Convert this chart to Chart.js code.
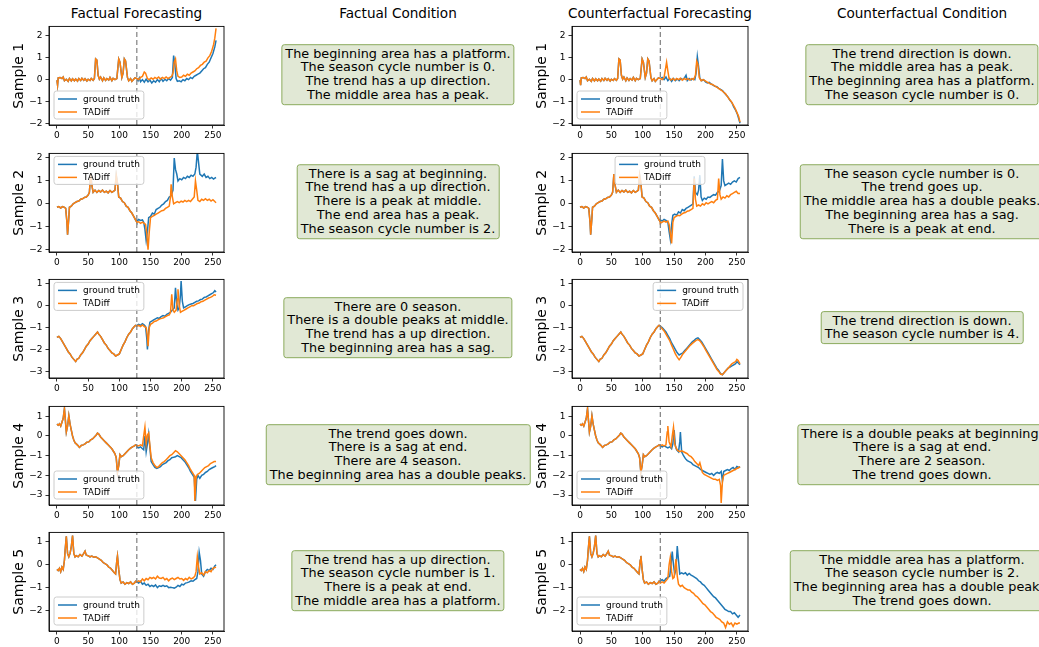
<!DOCTYPE html>
<html><head><meta charset="utf-8">
<script src="https://cdn.jsdelivr.net/npm/chart.js@4.4.0/dist/chart.umd.min.js"></script>
<style>
html,body{margin:0;padding:0;background:#fff;width:1039px;height:647px;overflow:hidden;font-family:"DejaVu Sans",sans-serif;}
body{position:relative;}
.wrap{position:absolute;}
.title{position:absolute;font-size:13.6px;line-height:16px;color:#000;white-space:nowrap;transform:translateX(-50%);}
.box{position:absolute;transform:translate(-50%,-50%);background:#e1e8d5;border:1px solid #8bab5d;border-radius:3px;padding:2px 3px;font-size:12.8px;line-height:13.9px;text-align:center;white-space:nowrap;color:#000;}
</style></head><body>
<script>
// ---------------- data ----------------
const xTicks = [0, 50, 100, 150, 200, 250];
const splitAt = 128;
const yTicksS1 = [-2, -1, 0, 1, 2];
const yTicksS2 = [-2, -1, 0, 1, 2];
const yTicksS3 = [-3, -2, -1, 0, 1];
const yTicksS4 = [-3, -2, -1, 0, 1];
const yTicksS5 = [-2, -1, 0, 1];
const yRangeS1 = [-2.08, 2.44];
const yRangeS2 = [-2.1, 2.2];
const yRangeS3 = [-3.3, 1.2];
const yRangeS4 = [-3.5, 1.5];
const yRangeS5 = [-2.9, 1.42];
const sampleLabels = ["Sample 1", "Sample 2", "Sample 3", "Sample 4", "Sample 5"];
const columnTitles = ["Factual Forecasting", "Factual Condition", "Counterfactual Forecasting", "Counterfactual Condition"];
const seriesNames = ["ground truth", "TADiff"];

// Sample 1
const s1Hist = [[0,-0.02],[1,-0.25],[2,0.08],[5,0.1],[8,0.05],[10,0.12],[12,-0.05],[15,0.02],[18,-0.08],[20,0.05],[23,-0.06],[25,0.04],[28,-0.05],[30,0.03],[33,-0.07],[35,0.05],[38,-0.04],[40,0.06],[43,-0.03],[45,0.04],[48,-0.06],[50,0.02],[53,-0.04],[55,0.05],[58,-0.03],[60,0.05],[62,0.95],[64,0.9],[66,0.2],[68,0.02],[70,0.12],[73,-0.05],[75,0.08],[78,-0.04],[80,0.05],[83,-0.02],[85,0.1],[88,-0.05],[90,0.06],[93,0.0],[96,0.05],[99,0.95],[101,0.8],[104,0.1],[106,0.3],[108,0.95],[110,0.85],[113,0.1],[115,-0.05],[118,0.05],[120,-0.08],[123,0.02],[125,0.08],[128,0.05]];
const s1FacGT = [[128,0.05],[130,-0.05],[132,0.08],[134,-0.1],[137,0.0],[140,-0.12],[143,0.02],[146,-0.1],[149,-0.02],[152,-0.15],[155,-0.05],[158,-0.12],[161,0.0],[164,-0.1],[167,0.05],[170,-0.08],[173,0.02],[176,-0.05],[179,0.05],[182,-0.02],[185,0.1],[187,1.1],[189,0.7],[191,0.05],[193,-0.08],[196,-0.05],[199,-0.1],[202,0.0],[205,-0.05],[208,0.05],[211,0.0],[214,0.1],[217,0.05],[220,0.15],[223,0.2],[226,0.25],[229,0.3],[232,0.4],[235,0.5],[238,0.55],[241,0.7],[244,0.8],[247,1.0],[250,1.2],[253,1.5],[255,1.8]];
const s1FacTAD = [[128,0.05],[131,0.0],[134,0.1],[137,0.15],[140,0.35],[142,0.3],[145,0.05],[148,0.0],[151,0.08],[154,0.02],[157,0.1],[160,0.05],[163,0.12],[166,0.02],[169,0.1],[172,0.05],[175,0.12],[178,0.05],[181,0.1],[184,0.15],[186,0.3],[188,0.8],[190,0.95],[192,0.4],[194,0.15],[197,0.1],[200,0.12],[203,0.2],[206,0.15],[209,0.25],[212,0.2],[215,0.3],[218,0.35],[221,0.4],[224,0.5],[227,0.55],[230,0.65],[233,0.7],[236,0.8],[239,0.85],[242,1.0],[245,1.1],[248,1.3],[251,1.6],[253,1.9],[255,2.35]];
const s1CfGT = [[128,0.05],[131,0.1],[134,0.0],[137,0.12],[140,-0.05],[143,0.05],[146,-0.08],[149,0.05],[152,-0.05],[155,0.03],[158,-0.05],[161,0.05],[164,0.0],[167,0.1],[169,0.2],[171,-0.05],[174,0.05],[177,-0.02],[180,0.05],[183,0.0],[185,0.3],[187,1.05],[189,0.6],[191,0.05],[194,-0.05],[197,0.0],[200,-0.1],[203,-0.15],[206,-0.12],[209,-0.2],[212,-0.25],[215,-0.3],[218,-0.32],[221,-0.4],[224,-0.45],[227,-0.5],[230,-0.6],[233,-0.7],[236,-0.8],[239,-0.95],[242,-1.05],[245,-1.25],[248,-1.4],[251,-1.6],[253,-1.8],[255,-2.0]];
const s1CfTAD = [[128,0.05],[131,0.0],[134,0.1],[136,0.45],[138,0.8],[140,0.4],[142,0.05],[145,-0.02],[148,0.05],[151,-0.03],[154,0.05],[157,0.0],[160,0.06],[163,-0.03],[166,0.05],[169,0.0],[172,0.05],[175,-0.02],[178,0.05],[181,0.0],[184,0.2],[186,0.85],[188,0.7],[190,0.1],[193,-0.05],[196,0.0],[199,-0.05],[202,-0.1],[205,-0.15],[208,-0.2],[211,-0.22],[214,-0.28],[217,-0.33],[220,-0.38],[223,-0.45],[226,-0.5],[229,-0.58],[232,-0.65],[235,-0.78],[238,-0.9],[241,-1.0],[244,-1.15],[247,-1.3],[250,-1.5],[253,-1.7],[255,-1.95]];

// Sample 2
const s2Hist = [[0,-0.15],[3,-0.12],[6,-0.18],[9,-0.12],[12,-0.15],[14,-0.2],[16,-0.8],[17,-1.35],[19,-0.6],[20,-0.15],[23,-0.1],[26,0.0],[29,0.05],[32,0.1],[35,0.12],[38,0.2],[41,0.22],[44,0.28],[47,0.3],[50,0.38],[52,0.5],[54,1.3],[56,0.8],[58,0.5],[61,0.6],[64,0.5],[67,0.58],[70,0.52],[73,0.6],[76,0.5],[79,0.55],[82,0.48],[85,0.58],[88,0.5],[91,0.55],[93,0.6],[95,1.25],[97,0.9],[99,0.3],[102,0.25],[105,0.1],[108,0.05],[111,-0.1],[114,-0.15],[117,-0.3],[120,-0.4],[123,-0.55],[126,-0.7],[128,-0.8]];
const s2FacGT = [[128,-0.75],[131,-0.68],[134,-0.72],[137,-0.7],[139,-0.8],[141,-1.1],[143,-1.6],[145,-1.2],[147,-0.6],[150,-0.55],[153,-0.4],[156,-0.45],[159,-0.25],[162,-0.2],[165,-0.15],[168,-0.05],[171,0.0],[174,0.1],[177,0.15],[180,0.3],[183,0.35],[186,0.6],[188,2.0],[190,1.5],[192,1.3],[194,1.0],[197,1.1],[200,1.05],[203,1.15],[206,1.1],[209,1.2],[212,1.15],[215,1.25],[218,1.2],[221,1.3],[223,1.6],[225,2.3],[227,1.8],[229,1.3],[233,1.2],[236,1.3],[239,1.15],[242,1.2],[245,1.1],[248,1.15],[251,1.08],[253,1.12],[255,1.15]];
const s2FacTAD = [[128,-0.8],[131,-0.78],[134,-0.85],[137,-0.8],[140,-0.85],[142,-0.9],[144,-1.3],[146,-2.0],[148,-1.2],[150,-0.6],[153,-0.55],[156,-0.5],[159,-0.45],[162,-0.4],[165,-0.35],[168,-0.3],[171,-0.28],[174,-0.2],[177,-0.15],[180,-0.1],[182,0.3],[183,0.85],[185,0.3],[187,0.0],[190,0.05],[193,0.1],[196,0.05],[199,0.12],[202,0.08],[205,0.15],[208,0.1],[211,0.15],[214,0.1],[217,0.2],[220,0.3],[222,1.0],[224,0.6],[226,0.15],[229,0.1],[232,0.2],[235,0.15],[238,0.22],[241,0.15],[244,0.2],[247,0.12],[250,0.18],[253,0.1],[255,0.05]];
const s2CfGT = [[128,-0.7],[131,-0.75],[134,-0.68],[137,-0.72],[140,-0.8],[142,-1.2],[144,-1.55],[146,-0.9],[148,-0.5],[151,-0.45],[154,-0.5],[157,-0.35],[160,-0.4],[163,-0.25],[166,-0.3],[169,-0.2],[172,-0.15],[175,-0.1],[178,-0.05],[180,0.0],[182,1.2],[184,0.5],[187,0.4],[189,0.6],[191,1.25],[193,0.3],[195,0.15],[198,0.25],[201,0.2],[204,0.3],[207,0.28],[210,0.35],[213,0.4],[216,0.38],[219,0.5],[222,0.55],[225,0.8],[227,1.95],[229,1.0],[231,0.8],[234,0.85],[237,0.9],[240,0.85],[243,0.95],[246,1.0],[249,0.95],[252,1.1],[255,1.15]];
const s2CfTAD = [[128,-0.85],[131,-0.8],[134,-0.75],[137,-0.8],[140,-0.75],[142,-0.9],[144,-1.3],[146,-1.73],[148,-0.8],[150,-0.6],[153,-0.55],[156,-0.5],[159,-0.52],[162,-0.45],[165,-0.4],[168,-0.38],[171,-0.32],[174,-0.3],[177,-0.25],[180,-0.2],[182,1.1],[184,0.2],[186,-0.1],[189,-0.05],[192,-0.1],[195,0.0],[198,-0.05],[201,0.05],[204,0.0],[207,0.05],[210,0.1],[213,0.05],[216,0.15],[219,0.2],[221,1.1],[223,0.4],[225,0.2],[228,0.3],[231,0.25],[234,0.35],[237,0.3],[240,0.4],[243,0.45],[246,0.5],[249,0.55],[252,0.45],[255,0.45]];

// Sample 3
const s3Hist = [[0,-1.45],[3,-1.4],[6,-1.5],[9,-1.65],[12,-1.8],[15,-1.95],[18,-2.1],[21,-2.2],[24,-2.35],[27,-2.45],[30,-2.55],[32,-2.45],[35,-2.4],[38,-2.25],[41,-2.15],[44,-2.0],[47,-1.85],[50,-1.75],[53,-1.6],[56,-1.5],[59,-1.4],[62,-1.3],[65,-1.2],[67,-1.3],[70,-1.4],[73,-1.55],[76,-1.7],[79,-1.8],[82,-1.95],[85,-2.05],[88,-2.15],[91,-2.2],[94,-2.3],[97,-2.25],[100,-2.2],[103,-2.0],[106,-1.8],[109,-1.65],[112,-1.45],[115,-1.3],[118,-1.2],[121,-1.05],[124,-0.95],[126,-0.9],[128,-0.92]];
const s3FacGT = [[128,-0.9],[131,-0.85],[134,-0.9],[137,-0.82],[140,-0.88],[142,-0.95],[144,-1.5],[145,-2.0],[147,-1.1],[149,-0.75],[152,-0.7],[155,-0.65],[158,-0.6],[161,-0.55],[164,-0.58],[167,-0.5],[170,-0.45],[173,-0.48],[176,-0.4],[179,-0.35],[182,-0.3],[185,-0.2],[188,-0.1],[190,0.82],[192,0.1],[194,-0.2],[196,-0.1],[198,0.5],[199,1.12],[201,0.2],[203,-0.1],[206,-0.05],[209,0.0],[212,0.05],[215,0.08],[218,0.1],[221,0.15],[224,0.2],[227,0.22],[230,0.28],[233,0.3],[236,0.38],[239,0.4],[242,0.45],[245,0.5],[248,0.55],[251,0.6],[253,0.68],[255,0.62]];
const s3FacTAD = [[128,-0.92],[131,-0.9],[134,-0.95],[137,-0.88],[140,-0.95],[143,-1.0],[145,-1.4],[146,-1.85],[148,-1.0],[150,-0.85],[153,-0.8],[156,-0.72],[159,-0.7],[162,-0.65],[165,-0.6],[168,-0.58],[171,-0.55],[174,-0.5],[177,-0.45],[180,-0.42],[182,-0.3],[184,0.52],[186,-0.2],[188,-0.3],[191,-0.2],[193,0.3],[194,0.75],[196,0.0],[198,-0.3],[201,-0.25],[204,-0.2],[207,-0.15],[210,-0.1],[213,-0.05],[216,0.0],[219,0.0],[222,0.05],[225,0.1],[228,0.12],[231,0.18],[234,0.2],[237,0.25],[240,0.3],[243,0.35],[246,0.38],[249,0.42],[252,0.5],[255,0.48]];
const s3CfGT = [[128,-0.95],[131,-1.0],[134,-1.1],[137,-1.2],[140,-1.35],[143,-1.5],[146,-1.7],[149,-1.85],[152,-2.0],[155,-2.15],[158,-2.25],[161,-2.2],[164,-2.15],[167,-2.05],[170,-1.95],[173,-1.85],[176,-1.75],[179,-1.65],[182,-1.58],[185,-1.5],[188,-1.47],[191,-1.55],[194,-1.65],[197,-1.8],[200,-1.95],[203,-2.1],[206,-2.25],[209,-2.4],[212,-2.55],[215,-2.7],[218,-2.85],[221,-2.95],[224,-3.1],[227,-3.15],[230,-3.05],[233,-2.95],[236,-2.85],[239,-2.8],[242,-2.75],[245,-2.7],[248,-2.65],[250,-2.55],[252,-2.6],[255,-2.7]];
const s3CfTAD = [[128,-0.95],[131,-1.05],[134,-1.15],[137,-1.3],[140,-1.45],[143,-1.6],[146,-1.8],[149,-2.0],[152,-2.2],[155,-2.35],[158,-2.47],[161,-2.35],[164,-2.2],[167,-2.1],[170,-2.0],[173,-1.9],[176,-1.8],[179,-1.72],[182,-1.65],[185,-1.58],[188,-1.55],[191,-1.6],[194,-1.72],[197,-1.85],[200,-2.0],[203,-2.15],[206,-2.3],[209,-2.45],[212,-2.6],[215,-2.75],[218,-2.9],[221,-3.0],[224,-3.12],[227,-3.15],[230,-3.05],[233,-2.95],[236,-2.85],[239,-2.75],[242,-2.65],[245,-2.6],[248,-2.55],[250,-2.45],[252,-2.5],[255,-2.65]];

// Sample 4
const s4Hist = [[0,0.6],[2,0.55],[4,0.62],[6,0.5],[8,0.7],[10,0.9],[12,1.39],[14,0.6],[15,0.2],[17,0.5],[19,1.03],[21,0.6],[23,0.3],[25,0.0],[27,-0.2],[29,-0.35],[31,-0.4],[34,-0.5],[36,-0.58],[39,-0.48],[42,-0.45],[45,-0.4],[48,-0.32],[51,-0.3],[54,-0.2],[57,-0.15],[60,-0.05],[63,0.05],[65,0.15],[67,0.1],[70,-0.05],[73,-0.15],[76,-0.25],[79,-0.35],[82,-0.45],[85,-0.55],[88,-0.65],[91,-0.8],[93,-0.9],[95,-1.1],[97,-1.85],[99,-1.5],[101,-0.95],[103,-1.05],[106,-1.0],[109,-0.9],[112,-0.8],[115,-0.7],[118,-0.62],[121,-0.55],[124,-0.5],[126,-0.45],[128,-0.5]];
const s4FacGT = [[128,-0.55],[131,-0.6],[134,-0.55],[137,-0.65],[139,-0.7],[141,0.0],[143,-0.8],[145,-0.4],[147,0.1],[149,-0.6],[151,-1.3],[154,-1.45],[157,-1.6],[160,-1.65],[163,-1.6],[166,-1.55],[169,-1.45],[172,-1.4],[175,-1.35],[178,-1.25],[181,-1.2],[184,-1.1],[187,-1.08],[190,-1.05],[193,-1.0],[196,-1.05],[199,-1.1],[202,-1.2],[205,-1.3],[208,-1.45],[211,-1.6],[214,-1.8],[217,-1.95],[220,-2.1],[222,-3.3],[224,-2.2],[226,-2.0],[229,-2.15],[232,-2.0],[235,-1.95],[238,-1.85],[241,-1.8],[244,-1.7],[247,-1.65],[250,-1.6],[253,-1.55],[255,-1.5]];
const s4FacTAD = [[128,-0.5],[131,-0.5],[134,-0.45],[137,-0.5],[139,0.0],[141,0.45],[143,-0.4],[145,0.05],[147,0.15],[149,-0.5],[151,-1.1],[154,-1.35],[157,-1.5],[160,-1.6],[163,-1.55],[166,-1.45],[169,-1.35],[172,-1.3],[175,-1.2],[178,-1.1],[181,-1.0],[184,-0.95],[187,-0.85],[190,-0.75],[193,-0.8],[196,-0.9],[199,-1.0],[202,-1.1],[205,-1.2],[208,-1.35],[211,-1.5],[214,-1.7],[217,-1.85],[220,-2.0],[221,-3.3],[223,-2.1],[225,-1.95],[228,-1.9],[231,-1.8],[234,-1.7],[237,-1.6],[240,-1.55],[243,-1.5],[246,-1.4],[249,-1.35],[252,-1.3],[255,-1.3]];
const s4CfGT = [[128,-0.5],[131,-0.55],[134,-0.5],[137,-0.55],[140,-0.6],[143,-0.55],[146,-0.65],[148,-0.4],[150,0.3],[152,-0.5],[154,-0.7],[157,-0.8],[159,-0.3],[160,0.2],[162,-0.8],[165,-1.0],[168,-1.15],[171,-1.25],[174,-1.3],[177,-1.35],[180,-1.45],[183,-1.5],[186,-1.55],[189,-1.6],[192,-1.7],[195,-1.75],[198,-1.8],[201,-1.85],[204,-1.9],[207,-1.95],[210,-1.9],[213,-2.0],[216,-1.9],[219,-1.85],[222,-1.9],[225,-1.8],[227,-2.3],[229,-1.8],[232,-1.75],[235,-1.7],[238,-1.75],[241,-1.65],[244,-1.6],[247,-1.7],[250,-1.55],[253,-1.6],[255,-1.55]];
const s4CfTAD = [[128,-0.5],[131,-0.45],[134,-0.5],[137,-0.45],[139,0.2],[140,0.5],[142,-0.3],[145,-0.55],[147,0.0],[149,0.45],[151,-0.4],[153,-0.6],[156,-0.75],[159,-0.8],[162,-0.75],[165,-0.8],[168,-0.85],[171,-0.9],[174,-1.0],[177,-1.05],[180,-1.15],[183,-1.3],[186,-1.4],[189,-1.5],[191,-1.36],[193,-1.6],[195,-1.85],[198,-1.95],[201,-2.0],[204,-2.05],[207,-2.1],[210,-2.15],[213,-2.2],[216,-2.2],[219,-2.25],[222,-2.2],[224,-2.5],[225,-3.4],[227,-2.3],[229,-2.0],[232,-1.95],[235,-1.9],[238,-1.85],[241,-1.8],[244,-1.75],[247,-1.7],[250,-1.65],[253,-1.6],[255,-1.55]];

// Sample 5
const s5Hist = [[0,-0.2],[2,-0.25],[4,-0.15],[6,-0.3],[8,-0.1],[10,-0.2],[12,0.2],[13,0.6],[15,1.25],[17,0.5],[19,0.35],[21,0.5],[23,0.8],[25,1.28],[27,0.5],[29,0.35],[31,0.4],[34,0.35],[37,0.45],[40,0.38],[43,0.5],[45,0.6],[47,0.42],[50,0.4],[53,0.35],[56,0.38],[59,0.33],[62,0.35],[65,0.3],[68,0.25],[71,0.2],[74,0.1],[77,0.05],[80,0.0],[83,-0.1],[86,-0.15],[89,-0.25],[92,-0.35],[94,-0.4],[96,0.2],[97,0.39],[99,-0.2],[101,-0.65],[103,-0.8],[106,-0.75],[109,-0.85],[112,-0.78],[115,-0.82],[118,-0.75],[121,-0.85],[124,-0.8],[126,-0.72],[128,-0.75]];
const s5FacGT = [[128,-0.75],[131,-0.8],[134,-0.72],[137,-0.85],[140,-0.8],[143,-0.9],[146,-0.85],[149,-0.95],[152,-0.9],[155,-0.95],[158,-0.88],[161,-1.0],[164,-0.92],[167,-0.95],[170,-0.9],[173,-0.95],[176,-0.92],[179,-1.0],[182,-0.98],[185,-1.0],[188,-1.02],[191,-0.98],[194,-0.9],[197,-0.95],[200,-0.85],[203,-0.88],[206,-0.8],[209,-0.78],[212,-0.75],[215,-0.7],[218,-0.72],[221,-0.65],[224,-0.6],[226,-0.3],[228,0.55],[230,0.2],[232,-0.4],[235,-0.5],[238,-0.3],[241,-0.2],[244,-0.25],[247,-0.15],[250,-0.2],[253,-0.05],[255,0.0]];
const s5FacTAD = [[128,-0.75],[131,-0.7],[134,-0.75],[137,-0.62],[140,-0.7],[143,-0.6],[146,-0.65],[149,-0.55],[152,-0.6],[155,-0.55],[158,-0.62],[161,-0.5],[164,-0.58],[167,-0.6],[170,-0.55],[173,-0.65],[176,-0.6],[179,-0.7],[182,-0.62],[185,-0.58],[188,-0.65],[191,-0.6],[194,-0.55],[197,-0.62],[200,-0.6],[203,-0.68],[206,-0.6],[209,-0.65],[212,-0.55],[215,-0.62],[218,-0.58],[221,-0.5],[223,-0.3],[225,0.36],[227,-0.1],[229,-0.4],[232,-0.35],[235,-0.45],[238,-0.3],[241,-0.35],[244,-0.25],[247,-0.3],[250,-0.15],[253,-0.12],[255,-0.1]];
const s5CfGT = [[128,-0.7],[131,-0.65],[134,-0.72],[137,-0.6],[140,-0.55],[143,-0.5],[145,0.0],[147,0.58],[149,0.0],[151,-0.4],[153,-0.2],[155,0.82],[157,0.2],[159,-0.4],[162,-0.35],[165,-0.4],[168,-0.35],[171,-0.45],[174,-0.38],[177,-0.45],[180,-0.5],[183,-0.55],[186,-0.6],[189,-0.7],[192,-0.75],[195,-0.85],[198,-0.9],[201,-1.0],[204,-1.1],[207,-1.2],[210,-1.3],[213,-1.4],[216,-1.45],[219,-1.55],[222,-1.65],[225,-1.75],[228,-1.85],[231,-1.95],[234,-2.0],[237,-2.05],[240,-2.05],[243,-2.15],[246,-2.1],[249,-2.2],[252,-2.3],[255,-2.2]];
const s5CfTAD = [[128,-0.8],[131,-0.75],[134,-0.8],[137,-0.7],[140,-0.6],[142,0.0],[144,0.34],[146,-0.3],[148,-0.6],[150,-0.55],[152,0.0],[153,0.25],[155,-0.5],[157,-0.85],[160,-0.95],[163,-0.9],[166,-1.0],[169,-1.05],[172,-1.1],[175,-1.1],[178,-1.2],[181,-1.25],[184,-1.35],[187,-1.4],[190,-1.5],[193,-1.6],[196,-1.7],[199,-1.75],[202,-1.85],[205,-1.95],[208,-2.05],[211,-2.1],[214,-2.2],[217,-2.3],[220,-2.35],[223,-2.4],[226,-2.5],[229,-2.55],[232,-2.75],[235,-2.5],[238,-2.6],[241,-2.55],[244,-2.7],[247,-2.55],[250,-2.6],[253,-2.55],[255,-2.55]];

const factualConditions = [
  ["The beginning area has a platform.", "The season cycle number is 0.", "The trend has a up direction.", "The middle area has a peak."],
  ["There is a sag at beginning.", "The trend has a up direction.", "There is a peak at middle.", "The end area has a peak.", "The season cycle number is 2."],
  ["There are 0 season.", "There is a double peaks at middle.", "The trend has a up direction.", "The beginning area has a sag."],
  ["The trend goes down.", "There is a sag at end.", "There are 4 season.", "The beginning area has a double peaks."],
  ["The trend has a up direction.", "The season cycle number is 1.", "There is a peak at end.", "The middle area has a platform."]
];
const counterfactualConditions = [
  ["The trend direction is down.", "The middle area has a peak.", "The beginning area has a platform.", "The season cycle number is 0."],
  ["The season cycle number is 0.", "The trend goes up.", "The middle area has a double peaks.", "The beginning area has a sag.", "There is a peak at end."],
  ["The trend direction is down.", "The season cycle number is 4."],
  ["There is a double peaks at beginning.", "There is a sag at end.", "There are 2 season.", "The trend goes down."],
  ["The middle area has a platform.", "The season cycle number is 2.", "The beginning area has a double peaks.", "The trend goes down."]
];

// ---------------- layout ----------------
const FONT = '"DejaVu Sans"';
const colAxes = [[49, 224], [572, 748]];
const textCenters = [398, 922];
const rowTops = [24, 151, 277, 404, 530];
const axH = 101;
const legendPos = [["ll", "ll"], ["ul", "uc"], ["ul", "ur"], ["ll", "ll"], ["ll", "ll"]];

const samples = [
  {hist: s1Hist, fg: s1FacGT, ft: s1FacTAD, cg: s1CfGT, ct: s1CfTAD, yt: yTicksS1, yr: yRangeS1},
  {hist: s2Hist, fg: s2FacGT, ft: s2FacTAD, cg: s2CfGT, ct: s2CfTAD, yt: yTicksS2, yr: yRangeS2},
  {hist: s3Hist, fg: s3FacGT, ft: s3FacTAD, cg: s3CfGT, ct: s3CfTAD, yt: yTicksS3, yr: yRangeS3},
  {hist: s4Hist, fg: s4FacGT, ft: s4FacTAD, cg: s4CfGT, ct: s4CfTAD, yt: yTicksS4, yr: yRangeS4},
  {hist: s5Hist, fg: s5FacGT, ft: s5FacTAD, cg: s5CfGT, ct: s5CfTAD, yt: yTicksS5, yr: yRangeS5}
];

const toPts = a => a.map(p => ({x: p[0], y: p[1]}));
const fmt = v => (v < 0 ? '\u2212' + Math.abs(v) : String(v));

const framePlugin = {
  id: 'frameLegend',
  afterDatasetsDraw(chart) {
    const ctx = chart.ctx, a = chart.chartArea;
    ctx.save();
    ctx.strokeStyle = '#000';
    ctx.lineWidth = 0.9;
    ctx.strokeRect(a.left, a.top, a.right - a.left, a.bottom - a.top);
    const pos = chart.options.plugins.frameLegend.pos;
    ctx.font = '9px ' + FONT;
    const items = [chart.data.datasets[1], chart.data.datasets[0]];
    const tw = Math.max(...items.map(d => ctx.measureText(d.label).width));
    const w = 4 + 19 + 6 + tw + 4, h = 28;
    let x, y;
    y = pos[0] === 'l' ? a.bottom - 6 - h : a.top + 3;
    if (pos[1] === 'l') x = a.left + 5;
    else if (pos[1] === 'r') x = a.right - 5 - w;
    else x = (a.left + a.right) / 2 - w / 2;
    ctx.beginPath();
    ctx.roundRect(x, y, w, h, 2.5);
    ctx.fillStyle = 'rgba(255,255,255,0.8)';
    ctx.fill();
    ctx.strokeStyle = '#cccccc';
    ctx.lineWidth = 1;
    ctx.stroke();
    items.forEach((d, i) => {
      const yy = y + 8 + i * 13;
      ctx.beginPath();
      ctx.moveTo(x + 4, yy);
      ctx.lineTo(x + 23, yy);
      ctx.strokeStyle = d.borderColor;
      ctx.lineWidth = 1.5;
      ctx.stroke();
      ctx.fillStyle = '#000';
      ctx.textBaseline = 'middle';
      ctx.textAlign = 'left';
      ctx.fillText(d.label, x + 29, yy + 0.5);
    });
    ctx.restore();
  }
};

function addDiv(cls, left, top, html) {
  const d = document.createElement('div');
  d.className = cls;
  d.style.left = left + 'px';
  d.style.top = top + 'px';
  d.innerHTML = html;
  document.body.appendChild(d);
  return d;
}

// titles
addDiv('title', (colAxes[0][0] + colAxes[0][1]) / 2, 5, columnTitles[0]);
addDiv('title', textCenters[0], 5, columnTitles[1]);
addDiv('title', (colAxes[1][0] + colAxes[1][1]) / 2, 5, columnTitles[2]);
addDiv('title', textCenters[1], 5, columnTitles[3]);

samples.forEach((s, r) => {
  const top = rowTops[r];
  // condition boxes
  addDiv('box', textCenters[0], top + axH / 2, factualConditions[r].join('<br>'));
  addDiv('box', textCenters[1], top + axH / 2, counterfactualConditions[r].join('<br>'));
  [[s.fg, s.ft], [s.cg, s.ct]].forEach((pair, c) => {
    const [l, rr] = colAxes[c];
    const padT = 6, padR = 8, yw = 49, xh = 22;
    const wrap = document.createElement('div');
    wrap.className = 'wrap';
    wrap.style.left = (l - yw) + 'px';
    wrap.style.top = (top - padT) + 'px';
    wrap.style.width = (yw + (rr - l) + padR) + 'px';
    wrap.style.height = (padT + axH + xh) + 'px';
    const cv = document.createElement('canvas');
    wrap.appendChild(cv);
    document.body.appendChild(wrap);
    new Chart(cv, {
      type: 'line',
      data: {
        datasets: [
          {label: seriesNames[1], data: toPts(s.hist.concat(pair[1])), borderColor: '#ff7f0e', borderWidth: 1.5, pointRadius: 0, order: 1},
          {label: seriesNames[0], data: toPts(s.hist.concat(pair[0])), borderColor: '#1f77b4', borderWidth: 1.5, pointRadius: 0, order: 2},
          {label: 'split', data: [{x: splitAt, y: s.yr[0]}, {x: splitAt, y: s.yr[1]}], borderColor: '#7f7f7f', borderWidth: 1.2, borderDash: [5, 3], pointRadius: 0, order: 0}
        ]
      },
      options: {
        animation: false, responsive: true, maintainAspectRatio: false, devicePixelRatio: 1,
        layout: {padding: {top: padT, right: padR, left: 0, bottom: 0}},
        plugins: {legend: {display: false}, tooltip: {enabled: false}, frameLegend: {pos: legendPos[r][c]}},
        elements: {line: {tension: 0}},
        scales: {
          x: {
            type: 'linear', min: -12.75, max: 267.75,
            afterBuildTicks: sc => { sc.ticks = xTicks.map(v => ({value: v})); },
            afterFit: sc => { sc.height = xh; },
            grid: {display: true, drawOnChartArea: false, drawTicks: true, tickLength: 3.5, tickColor: '#000', tickWidth: 0.8},
            border: {display: true, color: '#000', width: 0.8},
            ticks: {color: '#000', padding: 2, maxRotation: 0, autoSkip: false, font: {family: FONT, size: 9}, callback: v => fmt(v)}
          },
          y: {
            type: 'linear', min: s.yr[0], max: s.yr[1],
            afterBuildTicks: sc => { sc.ticks = s.yt.map(v => ({value: v})); },
            afterFit: sc => { sc.width = yw; },
            grid: {display: true, drawOnChartArea: false, drawTicks: true, tickLength: 3.5, tickColor: '#000', tickWidth: 0.8},
            border: {display: true, color: '#000', width: 0.8},
            title: {display: true, text: sampleLabels[r], color: '#000', font: {family: FONT, size: 14}, padding: {top: 11, bottom: 0}},
            ticks: {color: '#000', padding: 3, autoSkip: false, font: {family: FONT, size: 9}, callback: v => fmt(v)}
          }
        }
      },
      plugins: [framePlugin]
    });
  });
});
</script>
</body></html>
